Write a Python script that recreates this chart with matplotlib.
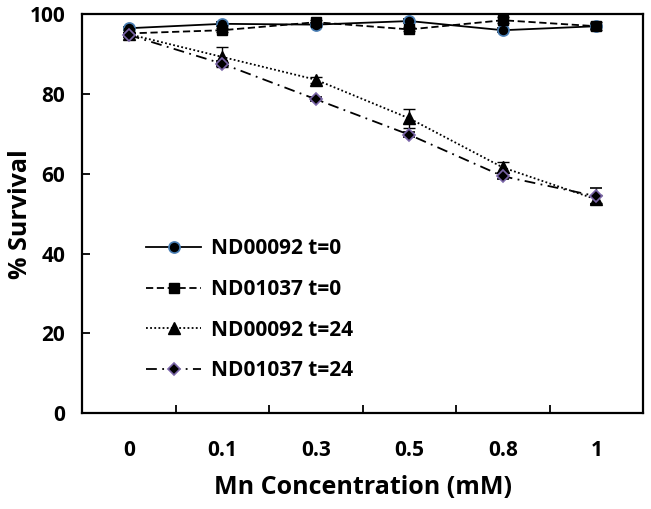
import numpy as np
import matplotlib.pyplot as plt
from matplotlib.lines import Line2D

plt.rcParams['font.family'] = ['Open Sans', 'DejaVu Sans']
plt.rcParams['font.weight'] = 'bold'

# data
conc_labels = ["0", "0.1", "0.3", "0.5", "0.8", "1"]
series_names = ["ND00092 t=0", "ND01037 t=0", "ND00092 t=24", "ND01037 t=24"]
nd92_t0 = [96.5, 97.6, 97.4, 98.3, 96.0, 97.0]
nd1037_t0 = [95.2, 96.0, 98.0, 96.2, 98.5, 97.0]
nd92_t24 = [95.0, 89.3, 83.6, 73.9, 61.6, 53.6]
nd1037_t24 = [94.8, 87.6, 78.7, 69.8, 59.4, 54.4]
err_92_t0 = [0.4, 0.5, 0.4, 0.4, 0.5, 0.6]
err_1037_t0 = [0.4, 0.5, 0.6, 0.5, 0.8, 1.0]
err_92_t24 = [0.5, 2.5, 0.8, 2.3, 1.5, 1.0]
err_1037_t24 = [0.4, 0.6, 0.5, 0.6, 0.7, 2.0]

x = np.arange(len(conc_labels))

fig, ax = plt.subplots(figsize=(6.51, 5.09), dpi=100)
fig.subplots_adjust(left=0.126, right=0.988, top=0.972, bottom=0.188)

styles = [
    dict(ls='-', marker='o', ms=8, mfc='black', mec='#4a7fb5', mew=1.2),
    dict(ls=(0, (4, 2)), marker='s', ms=7, mfc='black', mec='black', mew=1),
    dict(ls=(0, (1, 1.3)), marker='^', ms=8, mfc='black', mec='black', mew=1),
    dict(ls=(0, (6, 3, 1, 3)), marker='D', ms=6, mfc='black', mec='#7a65a8', mew=1.2),
]
data = [(nd92_t0, err_92_t0), (nd1037_t0, err_1037_t0),
        (nd92_t24, err_92_t24), (nd1037_t24, err_1037_t24)]

handles = []
for (vals, errs), st, name in zip(data, styles, series_names):
    ax.errorbar(x, vals, yerr=errs, color='black', lw=1.3, capsize=4,
                elinewidth=1, **st)
    handles.append(Line2D([], [], color='black', lw=1.3, label=name, **st))

ax.set_xlim(-0.5, len(conc_labels) - 0.5)
ax.set_ylim(0, 100)
ax.set_yticks(range(0, 101, 20))
ax.set_xticks(x)
ax.set_xticklabels(conc_labels)
ax.set_xticks(np.arange(0.5, len(conc_labels) - 0.5, 1), minor=True)
ax.tick_params(axis='x', which='major', length=0, pad=19, labelsize=15)
ax.tick_params(axis='x', which='minor', direction='in', length=6, width=1.3)
ax.tick_params(axis='y', direction='in', length=6, width=1.3, labelsize=15, pad=12)
for s in ax.spines.values():
    s.set_linewidth(1.6)

ax.set_xlabel("Mn Concentration (mM)", fontsize=18, fontweight='bold', labelpad=10)
ax.set_ylabel("% Survival", fontsize=18, fontweight='bold')
ax.yaxis.set_label_coords(-0.088, 0.5)

ax.legend(handles=handles, loc='upper left', bbox_to_anchor=(0.1, 0.46), frameon=False,
          fontsize=15, handlelength=2.6, handletextpad=0.5, labelspacing=0.95,
          borderaxespad=0)

plt.savefig("out.png", dpi=100)
